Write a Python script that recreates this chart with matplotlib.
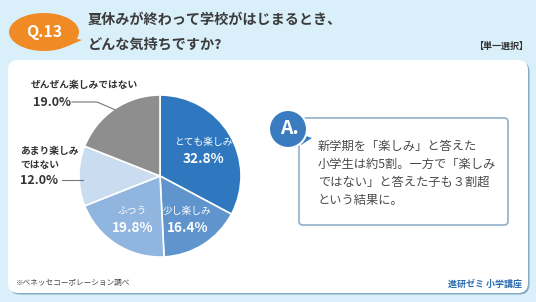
import numpy as np
import matplotlib
matplotlib.use("Agg")
import matplotlib.pyplot as plt
from matplotlib.patches import FancyBboxPatch, Circle, Ellipse, Polygon

plt.rcParams['font.family'] = ['Noto Sans CJK JP', 'DejaVu Sans']

# Data
labels = ['とても楽しみ', '少し楽しみ', 'ふつう', 'あまり楽しみ\nではない', 'ぜんぜん楽しみではない']
values = [32.8, 16.4, 19.8, 12.0, 19.0]
colors = ['#2f78bf', '#5f95cc', '#90b5de', '#cadcef', '#8e8e8e']
inside = [True, True, True, False, False]

title_lines = ['夏休みが終わって学校がはじまるとき、', 'どんな気持ちですか?']
answer_lines = ['新学期を「楽しみ」と答えた', '小学生は約5割。一方で「楽しみ',
                'ではない」と答えた子も３割超', 'という結果に。']

W, H = 536, 302
fig = plt.figure(figsize=(W / 100, H / 100), dpi=100)
fig.patch.set_facecolor('#d9eff9')
ax = fig.add_axes([0, 0, 1, 1])


def Y(y):
    return H - y


# white panel with a soft shadow
ax.add_patch(FancyBboxPatch((9.5, Y(294.5)), 520, 233, boxstyle="round,pad=0,rounding_size=10",
                            facecolor='#86aac6', edgecolor='none', zorder=1))
ax.add_patch(FancyBboxPatch((8, Y(293)), 520, 233, boxstyle="round,pad=0,rounding_size=10",
                            facecolor='white', edgecolor='none', zorder=2))

# Q badge
ax.add_patch(Polygon([(66, Y(36)), (82, Y(40)), (68, Y(46))], closed=True,
                     facecolor='#f08a24', edgecolor='none', zorder=3))
ax.add_patch(Ellipse((44, Y(32)), 70, 38, facecolor='#f08a24', edgecolor='none', zorder=3))
ax.text(44, Y(32), 'Q.13', color='white', fontsize=11.5, fontweight='bold',
        ha='center', va='center', zorder=4)

# title
for i, line in enumerate(title_lines):
    ax.text(88, Y(20 + 25 * i), line, color='#3c3c3c', fontsize=10.2, fontweight='bold',
            ha='left', va='center', zorder=4)
ax.text(528, Y(46), '【単一選択】', color='#333333', fontsize=6.5, fontweight='bold',
        ha='right', va='center', zorder=4)

# pie
cx, cy, r = 160, Y(176), 81
wedges, _ = ax.pie(values, colors=colors, startangle=90, counterclock=False,
                   center=(cx, cy), radius=r,
                   wedgeprops=dict(edgecolor='white', linewidth=1.2, zorder=5))
for w in wedges:
    w.set_zorder(5)

cum = np.cumsum([0] + values[:-1])
for lab, val, c0, ins in zip(labels, values, cum, inside):
    mid = np.deg2rad(90 - (c0 + val / 2) * 3.6)
    if ins:
        tx = cx + 0.63 * r * np.cos(mid)
        ty = cy + 0.63 * r * np.sin(mid)
        ax.text(tx, ty + 8, lab, color='white', fontsize=7, ha='center', va='center', zorder=6)
        ax.text(tx, ty - 9, f'{val:.1f}%', color='white', fontsize=9.8, fontweight='bold',
                ha='center', va='center', zorder=6)
    else:
        ex = cx + 0.99 * r * np.cos(mid)
        ey = cy + 0.99 * r * np.sin(mid)
        if ey > cy + 10:
            ky = Y(102)
            ax.plot([ex, 97, 72], [ey, ky, ky], color='#777777', lw=0.8, zorder=6)
            ax.text(33, ky, f'{val:.1f}%', color='#333333', fontsize=9, fontweight='bold',
                    ha='left', va='center', zorder=6)
            ax.text(31, ky + 17, lab, color='#333333', fontsize=7, fontweight='bold',
                    ha='left', va='center', zorder=6)
        else:
            ky = Y(180)
            ax.plot([cx - r + 4, 62], [ky, ky], color='#777777', lw=0.8, zorder=6)
            ax.text(20, ky, f'{val:.1f}%', color='#333333', fontsize=9, fontweight='bold',
                    ha='left', va='center', zorder=6)
            ax.text(20, ky + 22, lab, color='#333333', fontsize=7, fontweight='bold',
                    ha='left', va='center', linespacing=1.4, zorder=6)

ax.text(16, Y(283), '※ベネッセコーポレーション調べ', color='#444444', fontsize=5.5,
        ha='left', va='center', zorder=6)

# answer box
ax.add_patch(FancyBboxPatch((299, Y(225)), 209, 107, boxstyle="round,pad=0,rounding_size=4",
                            facecolor='white', edgecolor='#8fafcb', lw=1.2, zorder=3))
ax.add_patch(Polygon([(300, Y(134)), (312, Y(138)), (301, Y(145))], closed=True,
                     facecolor='#3a7cbf', edgecolor='none', zorder=4))
ax.add_patch(Circle((288, Y(129)), 19, facecolor='#3a7cbf', edgecolor='white', lw=1.5, zorder=4))
ax.text(289, Y(129), 'A.', color='white', fontsize=14, fontweight='bold',
        ha='center', va='center', zorder=5)
for i, line in enumerate(answer_lines):
    ax.text(318, Y(146 + 18.3 * i), line, color='#4a4a4a', fontsize=8.8,
            ha='left', va='center', zorder=5)

ax.text(522, Y(284), '進研ゼミ 小学講座', color='#2a6cb0', fontsize=6.5, fontweight='bold',
        ha='right', va='center', zorder=6)

ax.set_xlim(0, W)
ax.set_ylim(0, H)
ax.set_aspect('auto')
ax.axis('off')

fig.savefig('out.png', dpi=100, facecolor=fig.get_facecolor())
